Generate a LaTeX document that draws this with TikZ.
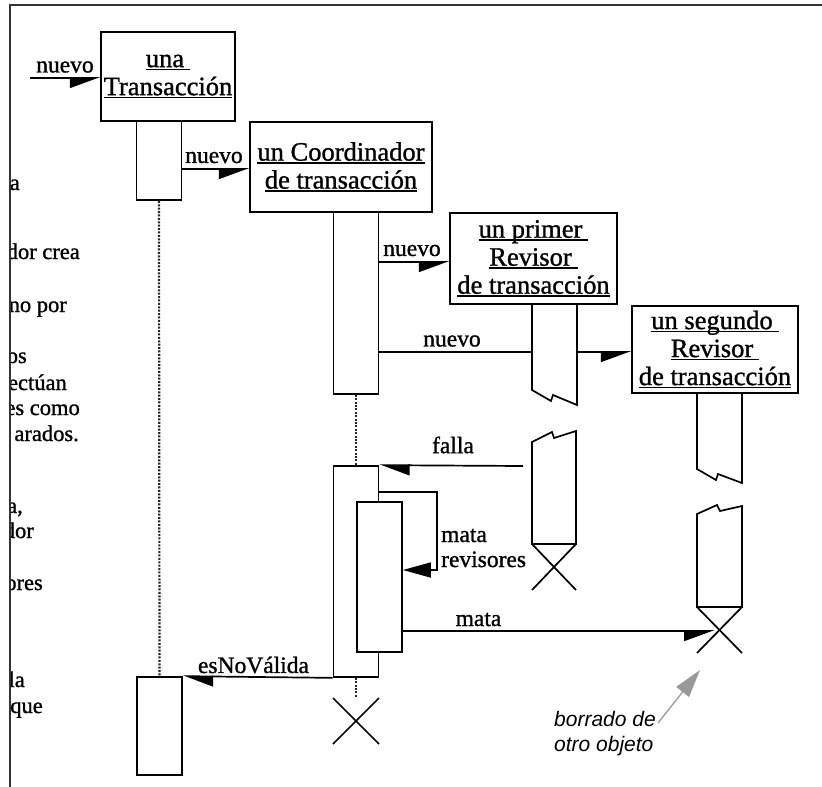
\documentclass[tikz,border=0pt]{standalone}
\usepackage{fontspec}
\setmainfont{Liberation Serif}[FakeBold=1.1]
\newfontfamily\notefont{Liberation Sans}
\usetikzlibrary{arrows.meta,calc}

% font sizes
\newcommand{\objfont}{\fontsize{26.5}{28}\selectfont}
\newcommand{\msgfont}{\fontsize{23.5}{25}\selectfont}
\newcommand{\fragfont}{\fontsize{22.5}{25}\selectfont}
% underline at a fixed depth below the baseline
\newcommand{\ulined}[1]{\setbox0\hbox{#1}\leavevmode\rlap{\rule[-3.2pt]{\wd0}{1.4pt}}\box0}

\begin{document}
\begin{tikzpicture}[x=1pt,y=-1pt,
  objbox/.style={draw, fill=white, line width=1.7pt, inner sep=0pt, align=center, font=\objfont},
  actbox/.style={draw, fill=white, line width=1.7pt, inner sep=0pt, minimum width=45pt},
  actpath/.style={draw, fill=white, line width=1.7pt, line join=miter},
  lifeline/.style={line width=2.2pt, dash pattern=on 2pt off 1.4pt, black!85},
  msgR/.style={line width=1.7pt, -{Triangle[harpoon, swap, length=28pt, width=20pt]}},
  msgL/.style={line width=1.7pt, -{Triangle[harpoon, length=28pt, width=20pt]}},
  selfmsg/.style={line width=1.7pt, -{Triangle[length=28pt, width=15pt]}},
  killmark/.style={line width=1.7pt},
  lbl/.style={font=\msgfont, inner sep=0pt},
  frag/.style={font=\fragfont, anchor=base east, inner sep=0pt},
  notetext/.style={font=\notefont\itshape\fontsize{21}{25}\selectfont, align=left, inner sep=2pt},
  notearrow/.style={draw=black!40, line width=1.3pt, -{Triangle[length=28pt, width=16pt, fill=black!40]}}
]
\useasboundingbox (0,0) rectangle (822,787);
\fill[white] (0,0) rectangle (822,787);

% page frame
\draw[line width=2pt, black!80] (10,787) -- (10,5) -- (822,5);

% body text cut off by the frame
\begin{scope}
  \clip (11,6) rectangle (130,787);
  \node[frag] at (20,190) {a};
  \node[frag] at (80,259) {dor crea};
  \node[frag] at (67,312) {no por};
  \node[frag] at (27,363) {os};
  \node[frag] at (67,390) {ectúan};
  \node[frag] at (80,415) {es como};
  \node[frag] at (79,441) {arados.};
  \node[frag] at (23,513) {a,};
  \node[frag] at (34,538) {dor};
  \node[frag] at (43,590) {ores};
  \node[frag] at (25,687) {la};
  \node[frag] at (43,713) {que};
\end{scope}

% objects
\node[objbox, minimum width=134pt, minimum height=89pt] (trans) at (168,76.5)
  {\ulined{una\kern6pt}\\\ulined{Transacción}};
\node[objbox, minimum width=182pt, minimum height=90pt] (coord) at (341,167)
  {\ulined{un Coordinador}\\\ulined{de transacción}};
\node[objbox, minimum width=167pt, minimum height=91pt] (primer) at (533.5,258.5)
  {\ulined{un primer\kern6pt}\\\ulined{Revisor\kern6pt}\\\ulined{de transacción}};
\node[objbox, minimum width=166pt, minimum height=87pt] (segundo) at (715,349.5)
  {\ulined{un segundo\kern6pt}\\\ulined{Revisor\kern6pt}\\\ulined{de transacción}};

% activations of the transaction and the coordinator
\node[actbox, minimum height=79pt] (transAct1) at (159,160.5) {};
\node[actbox, minimum height=98pt] (transAct2) at (159.5,726) {};
\node[actbox, minimum height=182pt] (coordAct1) at (356,303) {};

% lifelines
\draw[lifeline] (transAct1.south) -- (transAct2.north);
\coordinate (coordDel) at (356,721);

% creation messages
\coordinate (newSrc) at (30,78);
\draw[msgR] (newSrc) -- (newSrc -| trans.west);
\node[lbl] at (65,67) {nuevo};
\draw[msgR] (transAct1.east |- 0,169) -- (coord.west |- 0,169);
\node[lbl] at (214,157.5) {nuevo};
\draw[msgR] (coordAct1.east |- 0,262) -- (primer.west |- 0,262);
\node[lbl] at (412,250.5) {nuevo};
\draw[msgR] (coordAct1.east |- 0,352) -- (segundo.west |- 0,352);
\node[lbl] at (452,341) {nuevo};

% first reviewer: activation broken off
\draw[actpath] (532,304) -- (532,390) -- (551,401) -- (553,395) -- (577,405) -- (577,304) -- cycle;
% second reviewer: activation broken off
\draw[actpath] (697,393) -- (697,469) -- (716,480) -- (718,474) -- (742,483) -- (742,393) -- cycle;

% first reviewer resumes and is destroyed
\draw[actpath] (532,544) -- (532,442) -- (552,432) -- (554,438) -- (576,431) -- (576,544) -- cycle;
\draw[killmark] (532,544) -- (576,590) (576,544) -- (532,590);
\coordinate (fallaSrc) at (523,466);

% second reviewer resumes and is destroyed
\draw[actpath] (697,607) -- (697,514) -- (717,505) -- (720,511) -- (742,506) -- (742,607) -- cycle;
\coordinate (segDel) at (719.5,630);
\draw[killmark] (697,607) -- (742,653) (742,607) -- (697,653);

% coordinator handles the failure
\node[actbox, minimum height=211pt] (coordAct2) at (356,571.5) {};
\draw[lifeline] (coordAct1.south) -- (coordAct2.north);
\node[actbox, minimum height=150pt] (coordAct3) at (379.5,577) {};
\draw[selfmsg] (coordAct2.east |- 0,492) -- (437,492) -- (437,570) -- (coordAct3.east |- 0,570);

\draw[msgL] (fallaSrc) -- (coordAct2.north east);
\node[lbl] at (453,445) {falla};
\node[lbl, anchor=west, align=left] at (441,548) {mata\\revisores};
\draw[msgR, shorten >=5pt] (coordAct3.east |- 0,631) -- (segDel |- 0,631);
\node[lbl] at (478.5,619.5) {mata};

\draw[msgL] (coordAct2.south west) -- (transAct2.north east);
\node[lbl] at (253.5,665) {esNoVálida};

% coordinator destroyed
\draw[lifeline] (coordAct2.south) -- ($(coordDel)+(0,-23)$);
\draw[killmark] ($(coordDel)+(-23,-23)$) -- ($(coordDel)+(23,23)$)
                ($(coordDel)+(23,-23)$) -- ($(coordDel)+(-23,23)$);

% annotation
\node[notetext] (note) at (605,734) {borrado de\\otro objeto};
\coordinate (delMark) at (700,670);
\draw[notearrow] (note.east |- 0,723) -- (delMark);
\end{tikzpicture}
\end{document}
